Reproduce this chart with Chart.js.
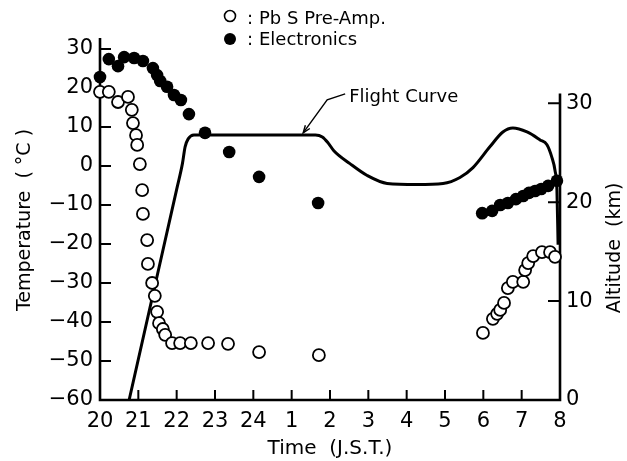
<!DOCTYPE html>
<html>
<head>
<meta charset="utf-8">
<script src="https://cdn.jsdelivr.net/npm/chart.js@4.4.0/dist/chart.umd.min.js"></script>
<style>
  html, body { margin: 0; padding: 0; background: #fff; }
  #wrap { width: 627px; height: 461px; }
</style>
</head>
<body>
<div id="wrap"><canvas id="flightChart" width="627" height="461"></canvas></div>
<script>
// hours counted from 20:00 J.S.T.
const hourLabels = ['20', '21', '22', '23', '24', '1', '2', '3', '4', '5', '6', '7', '8'];

// PbS pre-amplifier temperature (open circles)
const pbsTime = [0, 0.23, 0.47, 0.73, 0.83, 0.86, 0.94, 0.97, 1.04, 1.10, 1.12, 1.23, 1.25, 1.36,
  1.43, 1.49, 1.54, 1.64, 1.70, 1.88, 2.09, 2.37, 2.82, 3.34, 4.15, 5.71,
  9.99, 10.25, 10.36, 10.44, 10.54, 10.64, 10.77, 11.04, 11.09, 11.17, 11.30, 11.53, 11.74, 11.87];
const pbsTemp = [19.0, 19.0, 16.4, 17.7, 14.4, 11.0, 7.9, 5.4, 0.5, -6.2, -12.3, -19.0, -25.1, -30.0,
  -33.3, -37.4, -40.3, -41.8, -43.3, -45.4, -45.4, -45.4, -45.4, -45.6, -47.7, -48.5,
  -42.8, -39.2, -37.9, -36.9, -35.1, -31.3, -29.7, -29.7, -26.7, -24.9, -23.1, -22.1, -22.1, -23.3];

// electronics temperature (filled circles)
const elecTime = [0, 0.23, 0.47, 0.63, 0.89, 1.12, 1.38, 1.49, 1.57, 1.75, 1.93, 2.11, 2.32, 2.74,
  3.37, 4.15, 5.69,
  9.97, 10.23, 10.44, 10.64, 10.85, 11.04, 11.19, 11.35, 11.51, 11.69, 11.92];
const elecTemp = [22.8, 27.4, 25.6, 27.9, 27.7, 26.9, 25.1, 23.3, 21.8, 20.3, 18.2, 16.9, 13.3, 8.5,
  3.6, -2.8, -9.5,
  -12.1, -11.5, -10.0, -9.5, -8.5, -7.7, -6.9, -6.4, -5.9, -5.1, -3.8];

// balloon altitude in km
const flightTime = [0.76, 1.40, 2.00, 2.15, 2.22, 2.30, 2.45, 5.62, 5.80, 5.95, 6.10, 6.52, 6.97, 7.49,
  8.27, 8.95, 9.39, 9.73, 10.17, 10.51, 10.77, 11.14, 11.48, 11.66, 11.79, 11.87, 11.92, 11.95];
const flightAlt = [0, 11.0, 21.3, 23.9, 25.6, 26.4, 26.8, 26.8, 26.6, 26.0, 25.2, 23.9, 22.7, 21.9,
  21.8, 21.9, 22.5, 23.5, 25.6, 27.1, 27.5, 27.1, 26.3, 25.8, 24.5, 23.2, 21.2, 15.7];

// where the "Flight Curve" arrow touches the curve
const flightNoteTime = 5.3;
const flightNoteAlt = 26.8;

const FONT = '"DejaVu Sans", sans-serif';
const minus = v => String(v).replace('-', '\u2212');
const pts = (xs, ys) => xs.map((x, i) => ({ x: x, y: ys[i] }));

const decor = {
  id: 'decor',
  beforeDatasetsDraw(chart) {
    const { ctx, chartArea: a, scales } = chart;
    ctx.save();
    ctx.strokeStyle = '#000';
    ctx.lineWidth = 2.6;
    ctx.beginPath();
    ctx.moveTo(a.left, a.top - 2);
    ctx.lineTo(a.left, a.bottom);
    ctx.lineTo(a.right, a.bottom);
    ctx.lineTo(a.right, scales.y2.getPixelForValue(31));
    ctx.stroke();

    // tick marks point into the plot
    ctx.lineWidth = 2;
    ctx.beginPath();
    scales.y.ticks.forEach(t => {
      const py = scales.y.getPixelForValue(t.value);
      ctx.moveTo(a.left, py); ctx.lineTo(a.left + 11, py);
    });
    scales.x.ticks.forEach(t => {
      const px = scales.x.getPixelForValue(t.value);
      ctx.moveTo(px, a.bottom); ctx.lineTo(px, a.bottom - 10);
    });
    scales.y2.ticks.forEach(t => {
      const py = scales.y2.getPixelForValue(t.value);
      ctx.moveTo(a.right, py); ctx.lineTo(a.right - 12, py);
    });
    ctx.stroke();
    ctx.restore();
  },
  afterDraw(chart) {
    const { ctx, scales } = chart;
    ctx.save();
    ctx.fillStyle = '#000';
    ctx.strokeStyle = '#000';
    ctx.textBaseline = 'middle';
    ctx.font = '18px ' + FONT;

    // legend
    ctx.lineWidth = 1.6;
    ctx.beginPath();
    ctx.arc(230, 16, 5.5, 0, Math.PI * 2);
    ctx.stroke();
    ctx.beginPath();
    ctx.arc(230, 39, 6, 0, Math.PI * 2);
    ctx.fill();
    ctx.fillText(':', 247, 19);
    ctx.fillText('Pb S Pre-Amp.', 259, 19);
    ctx.fillText(':', 247, 40);
    ctx.fillText('Electronics', 259, 40);

    // flight curve note with arrow
    const tx = scales.x.getPixelForValue(flightNoteTime);
    const ty = scales.y2.getPixelForValue(flightNoteAlt) - 2;
    ctx.lineWidth = 1.4;
    ctx.beginPath();
    ctx.moveTo(tx, ty);
    ctx.lineTo(tx + 24, ty - 33);
    ctx.lineTo(tx + 42, ty - 39);
    ctx.stroke();
    const ang = Math.atan2(-33, 24);
    ctx.beginPath();
    ctx.moveTo(tx + 8 * Math.cos(ang - 0.35), ty + 8 * Math.sin(ang - 0.35));
    ctx.lineTo(tx, ty);
    ctx.lineTo(tx + 8 * Math.cos(ang + 0.35), ty + 8 * Math.sin(ang + 0.35));
    ctx.stroke();
    ctx.fillText('Flight Curve', tx + 46, ty - 36);

    // right axis title
    ctx.font = '19px ' + FONT;
    ctx.textAlign = 'center';
    ctx.translate(615, 248);
    ctx.rotate(-Math.PI / 2);
    ctx.fillText('Altitude  (km)', 0, 0);
    ctx.restore();
  }
};

new Chart(document.getElementById('flightChart'), {
  type: 'line',
  data: {
    datasets: [
      {
        label: 'Electronics',
        data: pts(elecTime, elecTemp),
        yAxisID: 'y',
        showLine: false,
        pointRadius: 6.3,
        pointBackgroundColor: '#000',
        pointBorderColor: '#000',
        pointBorderWidth: 0,
        clip: false
      },
      {
        label: 'Pb S Pre-Amp.',
        data: pts(pbsTime, pbsTemp),
        yAxisID: 'y',
        showLine: false,
        pointRadius: 6,
        pointBackgroundColor: '#fff',
        pointBorderColor: '#000',
        pointBorderWidth: 1.8,
        clip: false
      },
      {
        label: 'Flight Curve',
        data: pts(flightTime, flightAlt),
        yAxisID: 'y2',
        borderColor: '#000',
        borderWidth: 3,
        pointRadius: 0,
        cubicInterpolationMode: 'monotone',
        clip: false
      }
    ]
  },
  options: {
    responsive: false,
    animation: false,
    events: [],
    layout: { padding: { top: 40 } },
    plugins: { legend: { display: false }, tooltip: { enabled: false } },
    scales: {
      x: {
        type: 'linear',
        min: 0,
        max: 12,
        grid: { display: false, drawTicks: false },
        border: { display: false },
        ticks: {
          stepSize: 1,
          padding: 9,
          color: '#000',
          font: { family: FONT, size: 21 },
          callback: v => hourLabels[v]
        },
        title: {
          display: true,
          text: 'Time  (J.S.T.)',
          color: '#000',
          font: { family: FONT, size: 20 },
          padding: { top: 0, bottom: 0 }
        },
        afterFit: s => { s.height = 61; }
      },
      y: {
        position: 'left',
        min: -60,
        max: 32.3,
        grid: { display: false, drawTicks: false },
        border: { display: false },
        ticks: {
          stepSize: 10,
          includeBounds: false,
          padding: 7,
          color: '#000',
          font: { family: FONT, size: 21 },
          callback: v => minus(v)
        },
        title: {
          display: true,
          text: 'Temperature  ( °C )',
          color: '#000',
          font: { family: FONT, size: 19 },
          padding: { top: 14, bottom: 0 }
        },
        afterFit: s => { s.width = 100; }
      },
      y2: {
        position: 'right',
        min: 0,
        max: 36.4,
        grid: { display: false, drawTicks: false },
        border: { display: false },
        ticks: {
          stepSize: 10,
          includeBounds: false,
          padding: 6,
          color: '#000',
          font: { family: FONT, size: 21 }
        },
        afterFit: s => { s.width = 67; }
      }
    }
  },
  plugins: [decor]
});
</script>
</body>
</html>
